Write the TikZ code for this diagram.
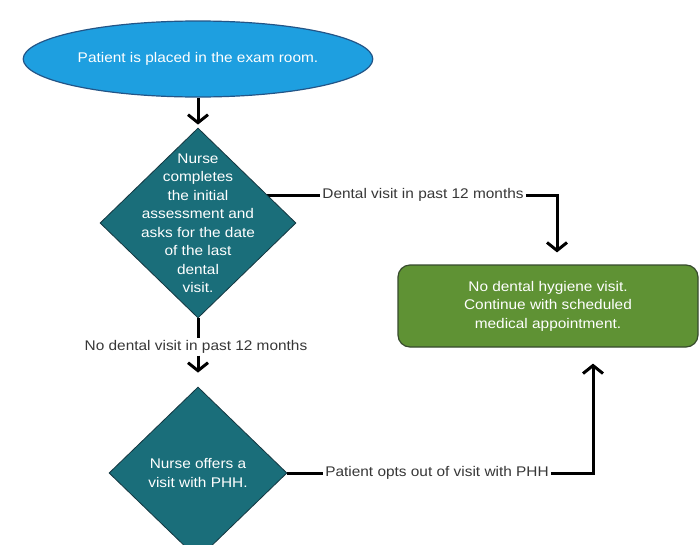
\documentclass[tikz,border=0pt]{standalone}
\usepackage{fontspec}
\setmainfont{Liberation Sans}[FakeStretch=1.1]
\usetikzlibrary{shapes,arrows.meta,backgrounds}

\begin{document}
\begin{tikzpicture}[x=1pt,y=-1pt,font=\fontsize{14}{18.5}\selectfont]
  % Colors
  \definecolor{startfill}{RGB}{30,159,224}
  \definecolor{startline}{RGB}{35,85,135}
  \definecolor{decfill}{RGB}{26,110,122}
  \definecolor{decline}{RGB}{20,55,65}
  \definecolor{endfill}{RGB}{95,146,52}
  \definecolor{endline}{RGB}{55,75,45}
  \definecolor{labeltext}{RGB}{55,55,55}
  % Styles
  \tikzstyle{start box}=[ellipse,draw=startline,line width=1.2pt,fill=startfill,text=white,minimum width=293pt,minimum height=76pt]
  \tikzstyle{decision}=[diamond,draw=decline,line width=0.8pt,fill=decfill,inner sep=0pt]
  \tikzstyle{decision text}=[text=white,align=center]
  \tikzstyle{end box}=[rectangle,rounded corners=12pt,draw=endline,line width=1.2pt,fill=endfill,text=white,align=center,minimum width=300pt,minimum height=82pt]
  \tikzstyle{line label}=[text=labeltext,inner sep=2pt]
  \tikzstyle{connector}=[line width=3pt,black]
  \tikzstyle{arrow}=[connector,-{Straight Barb[length=8pt,width=20pt]}]

  % The graphic
  \clip (0,0) rectangle (699,544);

  \node[start box] (start) at (198,59) {Patient is placed in the exam room.};
  \node[decision,minimum width=196pt,minimum height=190pt] (assess) at (198,223) {};
  \node[decision text] at (assess) {Nurse\\completes\\the initial\\assessment and\\asks for the date\\of the last\\dental\\visit.};
  \node[line label] (visit) at (423,195) {Dental visit in past 12 months};
  \node[end box] (novisit) at (548,306) {No dental hygiene visit.\\Continue with scheduled\\medical appointment.};
  \node[line label] (none) at (196,347) {No dental visit in past 12 months};
  \node[decision,minimum width=178pt,minimum height=172pt] (offer) at (198,473) {};
  \node[decision text] at (offer) {Nurse offers a\\visit with PHH.};
  \node[line label] (optout) at (437,473) {Patient opts out of visit with PHH};

  % Connectors
  \draw[arrow,shorten >=3pt] (start) -- (assess);
  \begin{scope}[on background layer]
    \fill[white] (0,0) rectangle (699,544);
    \draw[connector] (visit.west) -- (visit.west -| assess.center);
  \end{scope}
  \draw[arrow] (visit.east) -| ([xshift=9pt,yshift=12pt]novisit.north);
  \draw[connector] (assess.south) -- (assess.south |- none.north);
  \draw[arrow,shorten >=14pt] (assess.south |- none.south) -- (offer.north);
  \draw[connector] (offer.east) -- (optout.west);
  \draw[arrow] (optout.east) -| ([xshift=45pt,yshift=-16pt]novisit.south);
\end{tikzpicture}
\end{document}
